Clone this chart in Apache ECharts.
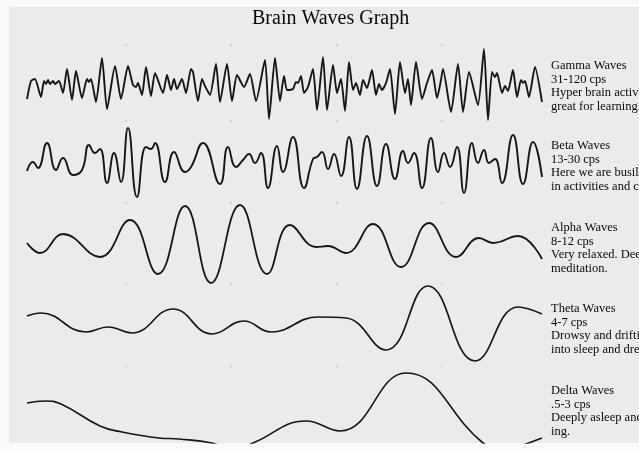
<!DOCTYPE html>
<html>
<head>
<meta charset="utf-8">
<title>Brain Waves Graph</title>
<script src="https://cdn.jsdelivr.net/npm/echarts@6/dist/echarts.min.js"></script>
<style>html,body{margin:0;padding:0;background:#fafafa;}</style>
</head>
<body>
<div id="main" style="width:639px;height:449px;"></div>
<script>
// peaks and troughs: [time, amplitude]
var gamma = [[0,-11],[4,7],[8,9],[14,-9],[17,7],[19,4],[21,8],[23,4],[26,7],[28,4],[32,7],[36,-5],
  [40,19],[45,-12],[49,17],[55,-10],[60,9],[62,6],[64,9],[69,-14],[75,30],[80,-21],[88,22],[94,-11],
  [101,22],[106,3],[109,1],[111,5],[115,-7],[119,21],[124,-8],[128,15],[136,-5],[140,13],[144,-2],
  [147,9],[150,-1],[155,9],[159,-5],[164,19],[166,16],[171,-13],[175,9],[178,2],[183,-7],[189,24],
  [193,-14],[200,24],[205,-13],[210,13],[217,1],[223,14],[229,-13],[238,28],[242,-31],[248,30],
  [253,-13],[257,12],[260,-2],[266,-1],[269,6],[271,5],[274,12],[277,-5],[281,1],[286,19],[290,-22],
  [296,31],[300,-22],[306,23],[310,-5],[314,9],[318,-23],[322,26],[326,-2],[329,5],[333,-7],[336,8],
  [340,0],[345,18],[349,-7],[352,4],[355,-2],[359,5],[363,19],[368,-26],[373,26],[378,-5],[381,9],
  [384,-17],[389,26],[395,-11],[400,5],[405,18],[410,-10],[414,8],[416,19],[424,-24],[431,24],
  [436,-24],[442,16],[451,-17],[457,39],[461,-32],[465,16],[468,11],[470,15],[475,-5],[478,2],
  [481,-3],[486,18],[490,-9],[494,8],[496,5],[498,7],[502,-9],[508,21],[515,-14]];
var beta = [[0,-9],[6,0],[11,-6],[20,19],[29,-8],[36,4],[46,-13],[55,-8],[62,17],[68,9],[73,13],
  [80,-21],[87,9],[94,-20],[101,34],[110,-35],[119,15],[124,13],[128,19],[138,-20],[147,10],
  [158,-10],[164,-5],[176,19],[193,-22],[201,15],[209,-5],[216,2],[222,8],[228,-1],[234,9],
  [241,-26],[250,16],[256,-10],[266,25],[277,-26],[286,3],[290,5],[295,10],[301,-7],[307,8],
  [314,-14],[322,25],[330,-27],[340,26],[350,-24],[359,18],[368,-17],[376,11],[381,-1],[387,9],
  [395,-26],[404,24],[411,-10],[417,9],[423,-5],[430,15],[437,-31],[445,19],[451,-1],[457,12],
  [462,-1],[468,3],[475,-21],[486,27],[496,-22],[506,20],[515,-15]];
var alpha = [[0,1],[13,-9],[36,10],[73,-13],[103,24],[131,-30],[158,38],[184,-39],[213,39],
  [240,-30],[263,19],[289,-3],[301,-2],[319,-9],[346,20],[374,-23],[402,21],[429,-13],[452,6],
  [466,1],[491,8],[515,-15]];
var theta = [[0,6],[14,9],[59,-10],[81,-5],[105,-11],[146,13],[185,-12],[217,1],[244,-10],
  [291,5],[319,4],[359,-28],[401,36],[448,-39],[491,15],[515,8]];
var delta = [[0,7],[18,9],[34,6],[73,-16],[95,-22],[132,-28],[152,-29],[185,-33],[205,-40],
  [226,-33],[279,-11],[313,-21],[379,37],[456,-33],[478,-42],[499,-34],[515,-28]];

var waveNames = ['Gamma', 'Beta', 'Alpha', 'Theta', 'Delta'];
var waveLabels = [
  ['Gamma Waves', '31-120 cps', 'Hyper brain activity,', 'great for learning.'],
  ['Beta Waves', '13-30 cps', 'Here we are busily engaged', 'in activities and conversation'],
  ['Alpha Waves', '8-12 cps', 'Very relaxed. Deep', 'meditation.'],
  ['Theta Waves', '4-7 cps', 'Drowsy and drifting', 'into sleep and dreaming'],
  ['Delta Waves', '.5-3 cps', 'Deeply asleep and not dream-', 'ing.']
];
var dotTimes = [99, 204, 310, 415];

var myChart = echarts.init(document.getElementById('main'), null, {renderer: 'canvas'});

// one band per wave, each with its own hidden axes
var bands = [
  {data: gamma, smooth: 0.2, width: 1.9, min: -33, max: 43, top: 45, height: 76, labelTop: 59},
  {data: beta, smooth: 0.5, width: 1.9, min: -41, max: 41, top: 121, height: 82, labelTop: 139},
  {data: alpha, smooth: 0.45, width: 1.8, min: -40, max: 41, top: 203, height: 81, labelTop: 221},
  {data: theta, smooth: 0.45, width: 1.7, min: -44, max: 38, top: 284, height: 82, labelTop: 302},
  {data: delta, smooth: 0.45, width: 1.6, min: -33, max: 44, top: 366, height: 77, labelTop: 384}
];

var grid = [], xAxis = [], yAxis = [], series = [], graphic = [];

graphic.push({type: 'rect', z: -10, shape: {x: 9, y: 7, width: 630, height: 436},
  style: {fill: '#ebebeb'}, silent: true});
graphic.push({type: 'text', left: 252, top: 9,
  style: {text: 'Brain Waves Graph', font: '20px "Liberation Serif"', fill: '#0a0a0a'}});

bands.forEach(function (b, i) {
  grid.push({left: 27, right: 97, top: b.top, height: b.height});
  xAxis.push({type: 'value', gridIndex: i, min: 0, max: 515, show: false});
  yAxis.push({type: 'value', gridIndex: i, min: b.min, max: b.max, show: false});
  series.push({
    name: waveNames[i], type: 'line', xAxisIndex: i, yAxisIndex: i,
    data: b.data, smooth: b.smooth, symbol: 'none', clip: true,
    lineStyle: {color: '#161616', width: b.width}
  });
  series.push({
    type: 'scatter', xAxisIndex: i, yAxisIndex: i, silent: true, clip: false,
    symbolSize: 2, itemStyle: {color: '#c4c4c4'},
    data: dotTimes.map(function (t) { return [t, b.max]; })
  });
  graphic.push({type: 'text', left: 551, top: b.labelTop,
    style: {text: waveLabels[i].join('\n'), font: '12.5px "Liberation Serif"',
      lineHeight: 13.6, fill: '#0a0a0a'}});
});

myChart.setOption({
  animation: false,
  backgroundColor: '#fafafa',
  grid: grid,
  xAxis: xAxis,
  yAxis: yAxis,
  series: series,
  graphic: graphic
});
</script>
</body>
</html>
